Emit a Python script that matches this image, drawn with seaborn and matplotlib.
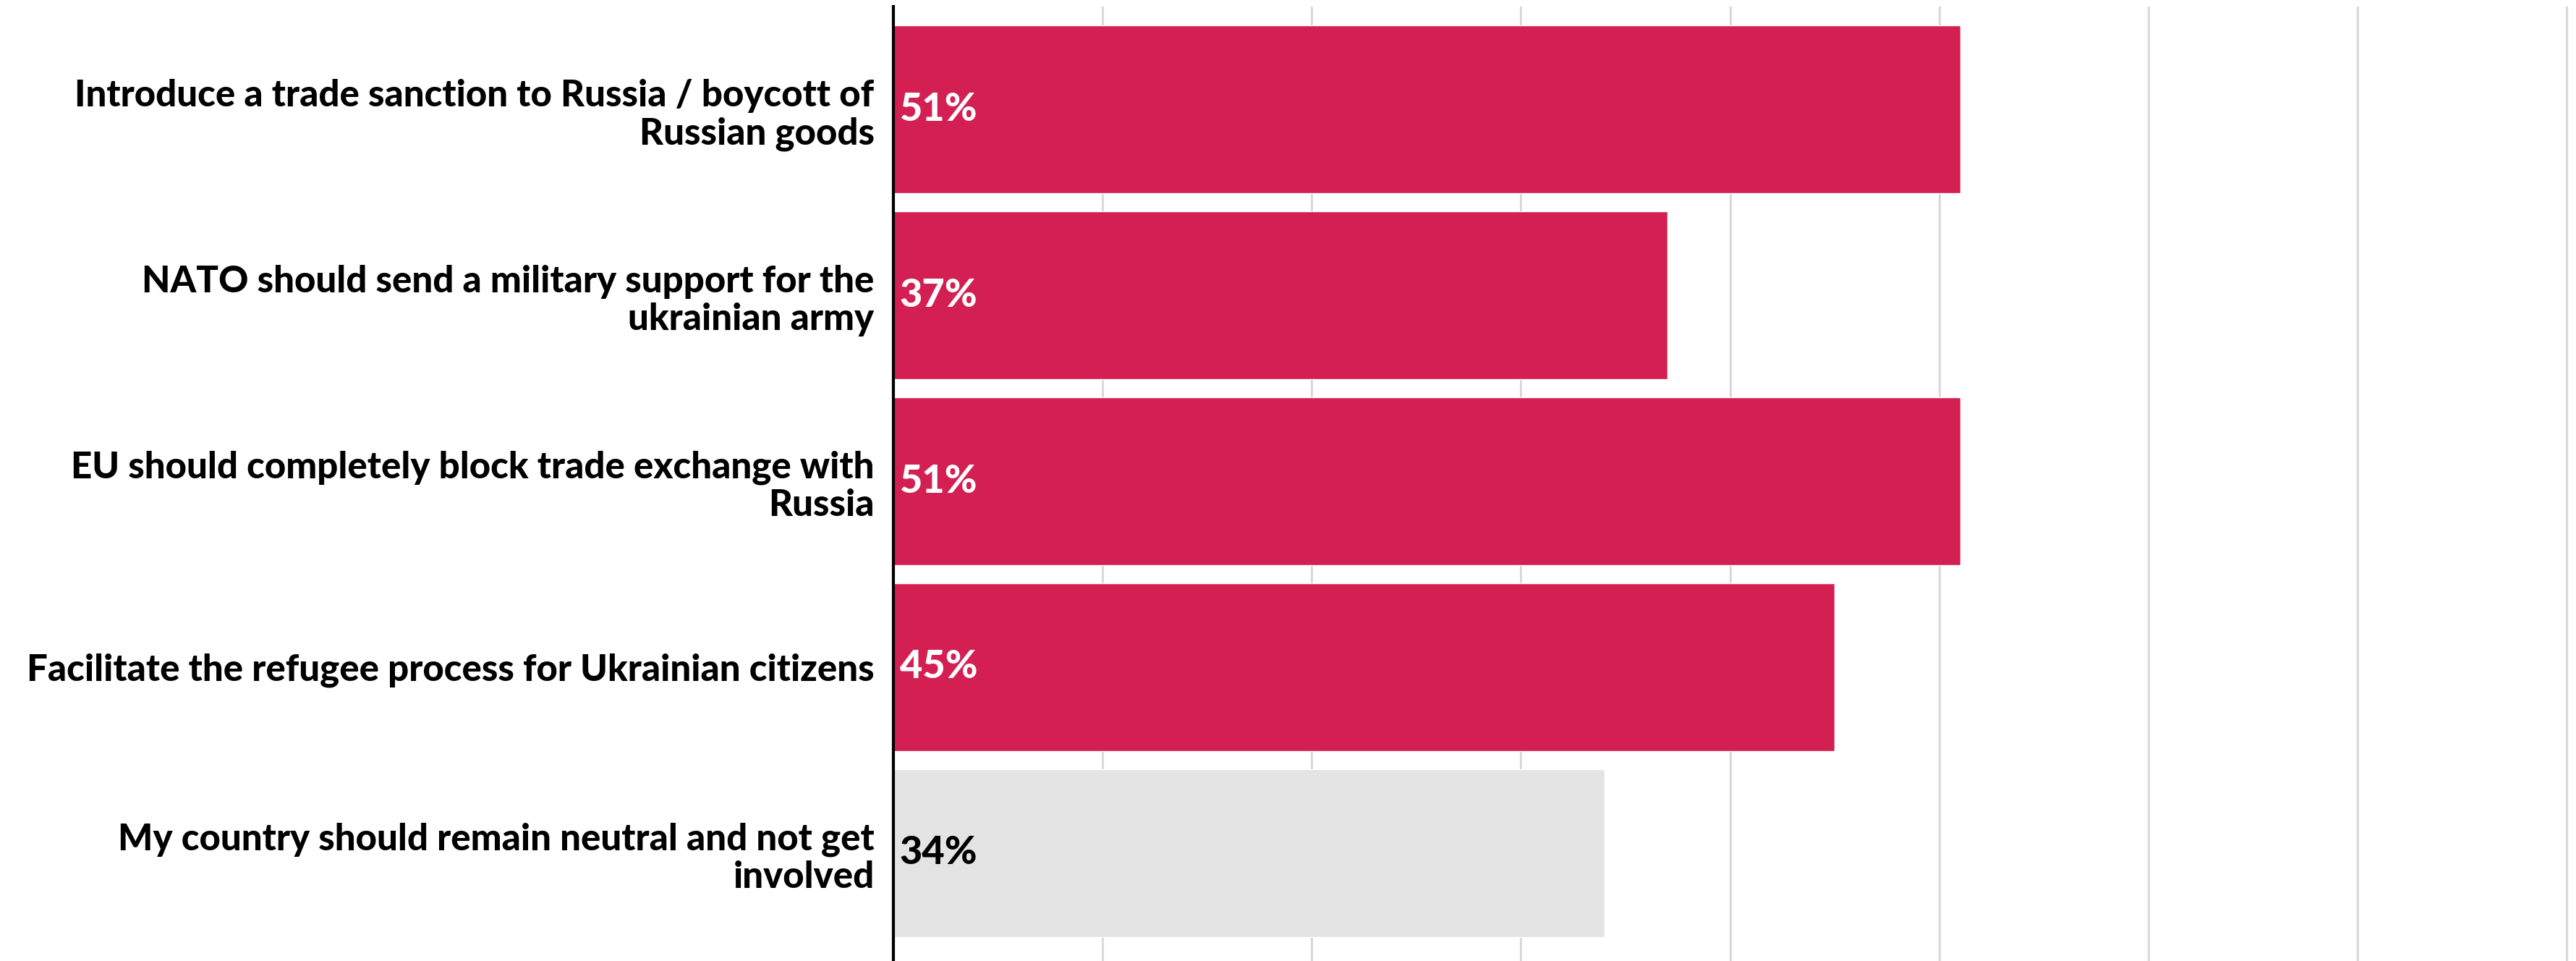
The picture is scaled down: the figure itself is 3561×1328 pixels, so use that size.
import matplotlib.pyplot as plt
import seaborn as sns

categories = [
    "Introduce a trade sanction to Russia / boycott of\nRussian goods",
    "NATO should send a military support for the\nukrainian army",
    "EU should completely block trade exchange with\nRussia",
    "Facilitate the refugee process for Ukrainian citizens",
    "My country should remain neutral and not get\ninvolved",
]
values = [51, 37, 51, 45, 34]
bar_colors = ["#D41F52", "#D41F52", "#D41F52", "#D41F52", "#E4E4E4"]
label_colors = ["white", "white", "white", "white", "black"]

sns.set_style("white")
plt.rcParams['font.family'] = ['Lato', 'DejaVu Sans']

fig = plt.figure(figsize=(35.62, 13.28), dpi=100)
ax = fig.add_axes([1235 / 3562, 0, 1 - 1235 / 3562, 1319 / 1328])

sns.barplot(x=values, y=categories, hue=categories, palette=bar_colors,
            width=0.9, legend=False, saturation=1, ax=ax)

# value labels at the start of each bar
for bar, val, col in zip(ax.patches, values, label_colors):
    ax.text(0.3, bar.get_y() + bar.get_height() / 2, f"{val}%",
            ha='left', va='center', color=col, fontsize=39, fontweight='black')

ax.set_xlim(0, 80.48)
ax.set_ylim(4.58, -0.553)
ax.set_xticks(range(0, 90, 10))
ax.set_xticklabels([])
ax.tick_params(axis='x', length=0)
ax.tick_params(axis='y', length=0, pad=19, labelsize=36.7, labelcolor='black')
for lab in ax.get_yticklabels():
    lab.set_fontweight('black')
    lab.set_linespacing(1.15)
ax.set_axisbelow(True)
ax.xaxis.grid(True, color='#d9d9d9', linewidth=2.2)
ax.yaxis.grid(False)
for s in ['top', 'right', 'bottom']:
    ax.spines[s].set_visible(False)
ax.spines['left'].set_color('black')
ax.spines['left'].set_linewidth(3)
ax.set_xlabel('')
ax.set_ylabel('')

fig.savefig("out.png", dpi=100, facecolor='white')
